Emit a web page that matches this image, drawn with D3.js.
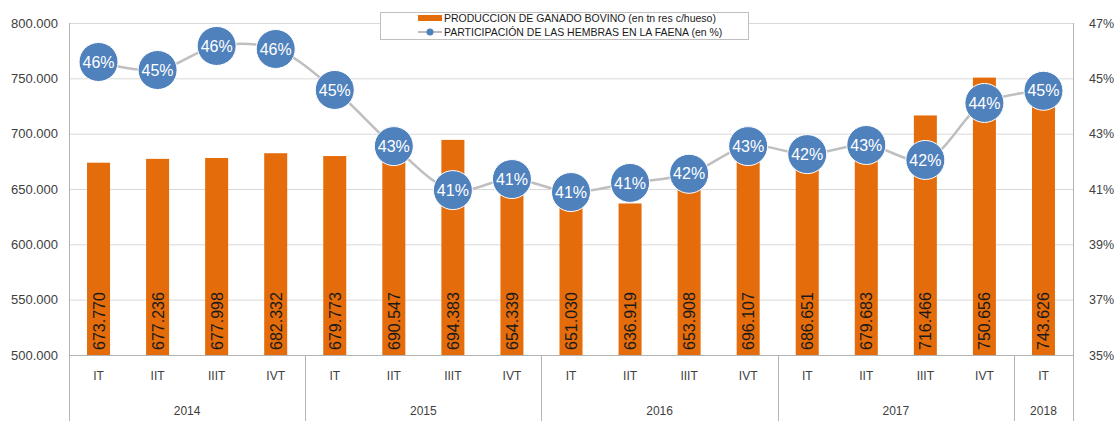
<!DOCTYPE html>
<html>
<head>
<meta charset="utf-8">
<script src="https://cdn.jsdelivr.net/npm/d3@7"></script>
<style>
  body { margin: 0; background: #fff; }
  svg { display: block; font-family: "Liberation Sans", Arial, sans-serif; }
</style>
</head>
<body>
<div id="chart"></div>
<script>
// Data
var years = ["2014", "2015", "2016", "2017", "2018"];
var quartersPerYear = [4, 4, 4, 4, 1];
var quarterNames = ["IT", "IIT", "IIIT", "IVT"];
var produccion = [673770, 677236, 677998, 682332, 679773, 690547, 694383, 654339,
                  651030, 636919, 653908, 696107, 686651, 679683, 716466, 750656, 743626];
var hembras = [45.59, 45.30, 46.17, 46.06, 44.58, 42.55, 40.96, 41.36,
               40.89, 41.22, 41.55, 42.55, 42.26, 42.59, 42.05, 44.11, 44.55];
var leftTicks = [500000, 550000, 600000, 650000, 700000, 750000, 800000];
var rightTicks = [35, 37, 39, 41, 43, 45, 47];
var legendLabels = ["PRODUCCION DE GANADO BOVINO (en tn res c/hueso)",
                    "PARTICIPACIÓN DE LAS HEMBRAS EN LA FAENA (en %)"];

// build category list (year + quarter)
var categories = [];
years.forEach(function(y, i) {
  for (var q = 0; q < quartersPerYear[i]; q++) {
    categories.push({ key: y + "-" + q, year: y, quarter: quarterNames[q] });
  }
});
categories.forEach(function(c, i) { c.prod = produccion[i]; c.pct = hembras[i]; });

var width = 1118, height = 421;
var plot = { left: 69, right: 1073, top: 23, bottom: 355 };

var svg = d3.select("#chart").append("svg")
  .attr("width", width)
  .attr("height", height);

var x = d3.scaleBand()
  .domain(categories.map(function(d) { return d.key; }))
  .range([plot.left, plot.right])
  .padding(0);

var yLeft = d3.scaleLinear().domain([500000, 800000]).range([plot.bottom, plot.top]);
var yRight = d3.scaleLinear().domain([35, 47]).range([plot.bottom, plot.top]);

var fmt = function(v) { return d3.format(",")(v).replace(/,/g, "."); };

// gridlines
svg.append("g")
  .selectAll("line")
  .data(leftTicks.slice(1))
  .enter().append("line")
  .attr("x1", plot.left).attr("x2", plot.right)
  .attr("y1", function(d) { return yLeft(d) + 0.5; })
  .attr("y2", function(d) { return yLeft(d) + 0.5; })
  .attr("stroke", "#d9d9d9")
  .attr("stroke-width", 1);

// left axis labels
var leftAxis = d3.axisLeft(yLeft).tickValues(leftTicks).tickSize(0).tickPadding(11).tickFormat(fmt);
var gl = svg.append("g").attr("transform", "translate(" + plot.left + ",0)").call(leftAxis);
gl.select(".domain").remove();
gl.selectAll("text").attr("font-size", 13).attr("fill", "#404040")
  .attr("font-family", "Liberation Sans, Arial, sans-serif");

// right axis labels
var rightAxis = d3.axisRight(yRight).tickValues(rightTicks).tickSize(0).tickPadding(16)
  .tickFormat(function(d) { return d + "%"; });
var gr = svg.append("g").attr("transform", "translate(" + plot.right + ",0)").call(rightAxis);
gr.select(".domain").remove();
gr.selectAll("text").attr("font-size", 12.5).attr("fill", "#404040")
  .attr("font-family", "Liberation Sans, Arial, sans-serif");

// bars
var barW = 23;
var clipId = "plotclip";
svg.append("clipPath").attr("id", clipId)
  .append("rect")
  .attr("x", plot.left).attr("y", plot.top)
  .attr("width", plot.right - plot.left).attr("height", plot.bottom - plot.top);

var bars = svg.append("g").attr("clip-path", "url(#" + clipId + ")");
bars.selectAll("rect")
  .data(categories)
  .enter().append("rect")
  .attr("x", function(d) { return x(d.key) + x.bandwidth() / 2 - barW / 2; })
  .attr("y", function(d) { return yLeft(d.prod); })
  .attr("width", barW)
  .attr("height", function(d) { return plot.bottom - yLeft(d.prod); })
  .attr("fill", "#e46c0a");

// bar value labels (rotated)
svg.append("g")
  .selectAll("text")
  .data(categories)
  .enter().append("text")
  .attr("transform", function(d) {
    return "translate(" + (x(d.key) + x.bandwidth() / 2 + 6) + "," + (plot.bottom - 5) + ") rotate(-90)";
  })
  .attr("font-size", 16)
  .attr("fill", "#1a1a1a")
  .text(function(d) { return fmt(d.prod); });

// axis lines: left and right vertical, bottom
var axisColor = "#b3b3b3";
svg.append("line")
  .attr("x1", plot.left + 0.5).attr("x2", plot.left + 0.5)
  .attr("y1", plot.top).attr("y2", height)
  .attr("stroke", axisColor);
svg.append("line")
  .attr("x1", plot.right + 0.5).attr("x2", plot.right + 0.5)
  .attr("y1", plot.top).attr("y2", height)
  .attr("stroke", axisColor);
svg.append("line")
  .attr("x1", plot.left).attr("x2", plot.right)
  .attr("y1", plot.bottom + 0.5).attr("y2", plot.bottom + 0.5)
  .attr("stroke", axisColor);

// year separators and labels
var start = 0;
years.forEach(function(y, i) {
  var first = categories[start], last = categories[start + quartersPerYear[i] - 1];
  var x0 = x(first.key), x1 = x(last.key) + x.bandwidth();
  if (i > 0) {
    svg.append("line")
      .attr("x1", Math.round(x0) + 0.5).attr("x2", Math.round(x0) + 0.5)
      .attr("y1", plot.bottom).attr("y2", height)
      .attr("stroke", axisColor);
  }
  svg.append("text")
    .attr("x", (x0 + x1) / 2)
    .attr("y", 415)
    .attr("text-anchor", "middle")
    .attr("font-size", 12)
    .attr("fill", "#404040")
    .text(y);
  start += quartersPerYear[i];
});

// quarter labels
svg.append("g")
  .selectAll("text")
  .data(categories)
  .enter().append("text")
  .attr("x", function(d) { return x(d.key) + x.bandwidth() / 2; })
  .attr("y", 380)
  .attr("text-anchor", "middle")
  .attr("font-size", 12)
  .attr("fill", "#404040")
  .text(function(d) { return d.quarter; });

// line for percentage
var line = d3.line()
  .x(function(d) { return x(d.key) + x.bandwidth() / 2; })
  .y(function(d) { return yRight(d.pct); })
  .curve(d3.curveCatmullRom.alpha(0.5));

svg.append("path")
  .datum(categories)
  .attr("d", line)
  .attr("fill", "none")
  .attr("stroke", "#bfbfbf")
  .attr("stroke-width", 2.5);

// bubbles
var bub = svg.append("g").selectAll("g")
  .data(categories)
  .enter().append("g")
  .attr("transform", function(d) {
    return "translate(" + (x(d.key) + x.bandwidth() / 2) + "," + yRight(d.pct) + ")";
  });
bub.append("circle")
  .attr("r", 19.5)
  .attr("fill", "#4f81bd")
  .attr("stroke", "#ffffff")
  .attr("stroke-width", 1);
bub.append("text")
  .attr("text-anchor", "middle")
  .attr("dy", "0.35em")
  .attr("font-size", 16)
  .attr("fill", "#ffffff")
  .text(function(d) { return Math.round(d.pct) + "%"; });

// legend
var legend = svg.append("g");
legend.append("rect")
  .attr("x", 380.5).attr("y", 12.5)
  .attr("width", 368).attr("height", 27)
  .attr("fill", "#ffffff")
  .attr("stroke", "#bfbfbf");
legend.append("rect")
  .attr("x", 418).attr("y", 15)
  .attr("width", 24).attr("height", 6)
  .attr("fill", "#e46c0a");
legend.append("line")
  .attr("x1", 418).attr("x2", 442)
  .attr("y1", 32).attr("y2", 32)
  .attr("stroke", "#a6a6a6").attr("stroke-width", 1.5);
legend.append("circle")
  .attr("cx", 430).attr("cy", 32).attr("r", 3.5)
  .attr("fill", "#4f81bd");
legend.selectAll("text.leg")
  .data(legendLabels)
  .enter().append("text")
  .attr("class", "leg")
  .attr("x", 444)
  .attr("y", function(d, i) { return 22 + i * 14; })
  .attr("font-size", 10.5)
  .attr("fill", "#1a1a1a")
  .text(function(d) { return d; });
</script>
</body>
</html>
